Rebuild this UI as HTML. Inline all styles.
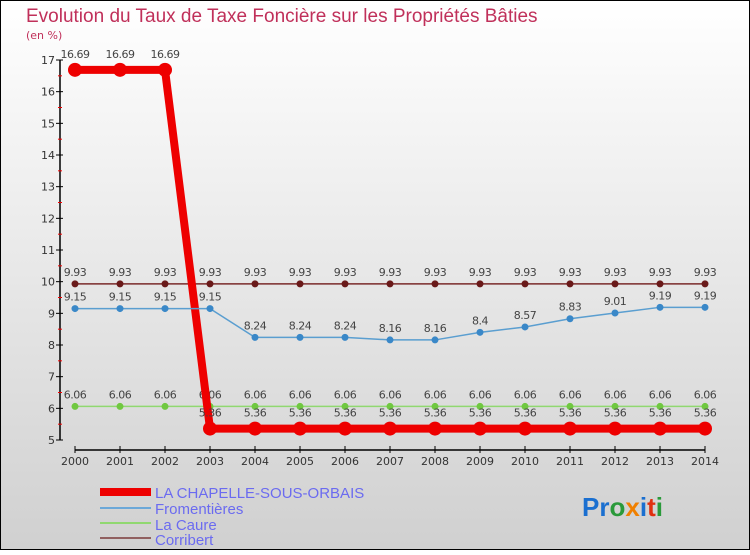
<!DOCTYPE html>
<html><head><meta charset="utf-8"><style>
body{margin:0}
svg text{font-family:"DejaVu Sans","Liberation Sans",sans-serif}
</style></head><body>
<svg width="750" height="550" xmlns="http://www.w3.org/2000/svg">
<defs><linearGradient id="bg" x1="0" y1="0" x2="0" y2="1"><stop offset="0" stop-color="#ffffff"/><stop offset="1" stop-color="#d0d0d0"/></linearGradient></defs>
<rect x="0.5" y="0.5" width="749" height="549" fill="url(#bg)" stroke="#000"/>
<text x="26" y="22" font-size="19" fill="#c0305a" style="font-family:'Liberation Sans',sans-serif">Evolution du Taux de Taxe Foncière sur les Propriétés Bâties</text>
<text x="26" y="39" font-size="11" fill="#c0305a">(en %)</text>
<g id="axes"></g>
<g id="series"></g>
<g font-size="15" fill="#6b6bf0">
<rect x="100" y="488" width="51" height="8" fill="#e00"/>
<text x="155" y="498" style="font-family:'Liberation Sans',sans-serif">LA CHAPELLE-SOUS-ORBAIS</text>
<rect x="100" y="507" width="51" height="2" fill="#6ca8d8"/>
<text x="155" y="514" style="font-family:'Liberation Sans',sans-serif">Fromentières</text>
<rect x="100" y="522" width="51" height="2" fill="#90d870"/>
<text x="155" y="530" style="font-family:'Liberation Sans',sans-serif">La Caure</text>
<rect x="100" y="537" width="51" height="2" fill="#906060"/>
<text x="155" y="545" style="font-family:'Liberation Sans',sans-serif">Corribert</text>
</g>
<text x="582" y="516" font-size="26" font-weight="bold" style="font-family:'Liberation Sans',sans-serif"><tspan fill="#1a6fd0">Pr</tspan><tspan fill="#2a9a3a">o</tspan><tspan fill="#f08000">x</tspan><tspan fill="#1a6fd0">i</tspan><tspan fill="#e03010">t</tspan><tspan fill="#2a9a3a">i</tspan></text>
</svg>
<script>
const years=[2000,2001,2002,2003,2004,2005,2006,2007,2008,2009,2010,2011,2012,2013,2014];
const chapelle=[16.69,16.69,16.69,5.36,5.36,5.36,5.36,5.36,5.36,5.36,5.36,5.36,5.36,5.36,5.36];
const fromentieres=[9.15,9.15,9.15,9.15,8.24,8.24,8.24,8.16,8.16,8.4,8.57,8.83,9.01,9.19,9.19];
const laCaure=[6.06,6.06,6.06,6.06,6.06,6.06,6.06,6.06,6.06,6.06,6.06,6.06,6.06,6.06,6.06];
const corribert=[9.93,9.93,9.93,9.93,9.93,9.93,9.93,9.93,9.93,9.93,9.93,9.93,9.93,9.93,9.93];
const yTicks=[5,6,7,8,9,10,11,12,13,14,15,16,17];
const NS='http://www.w3.org/2000/svg';
const xs=i=>75+i*45;
const ys=v=>440-(v-5)*(380/12);
function mk(tag,at,parent){const e=document.createElementNS(NS,tag);for(const k in at)e.setAttribute(k,at[k]);parent.appendChild(e);return e;}
const ax=document.getElementById('axes');
let yl=mk('line',{x1:60,y1:ys(17),x2:60,y2:ys(5),stroke:'#000','stroke-width':1.5},ax);


yTicks.forEach(t=>{
 let l=mk('line',{x1:56,y1:ys(t),x2:63,y2:ys(t),stroke:'#000'},ax);
 
 
 if(t<17){let m=mk('line',{x1:58,y1:ys(t+0.5),x2:62,y2:ys(t+0.5),stroke:'#e00'},ax);
 
 }
 let tx=mk('text',{x:55,y:ys(t)+4,'font-size':11,'text-anchor':'end',fill:'#333'},ax);tx.textContent=t;
 
 
});
let xl=mk('line',{x1:75,y1:450,x2:705,y2:450,stroke:'#000','stroke-width':1.5},ax);


years.forEach((y,i)=>{
 let l=mk('line',{x1:xs(i),y1:446,x2:xs(i),y2:453,stroke:'#000'},ax);
 
 
 let tx=mk('text',{x:xs(i),y:465,'font-size':11,'text-anchor':'middle',fill:'#333'},ax);tx.textContent=y;
 
 
});
const sg=document.getElementById('series');
function series(vals,color,lw,r,mcolor,name,labOff){
 const g=mk('g',{},sg);
 
 
 let p=mk('polyline',{points:vals.map((v,i)=>xs(i)+','+ys(v)).join(' '),fill:'none',stroke:color,'stroke-width':lw},g);
 
 
 vals.forEach((v,i)=>{
  let c=mk('circle',{cx:xs(i),cy:ys(v),r:r,fill:mcolor},g);
  
  
  let t=mk('text',{x:xs(i),y:ys(v)-labOff,'font-size':11,'text-anchor':'middle',fill:'#444','letter-spacing':'-0.5'},g);t.textContent=v;
  
  
 });
}
series(corribert,'#7a2a2a',1.5,3.5,'#6a1a1a','corribert',8);
series(laCaure,'#90d870',1.5,3.5,'#70c840','la-caure',8);
series(chapelle,'#ee0000',8,7,'#ee0000','chapelle',12);
series(fromentieres,'#5a9ed0',1.5,3.5,'#3a88c8','fromentieres',8);
</script>
</body></html>
